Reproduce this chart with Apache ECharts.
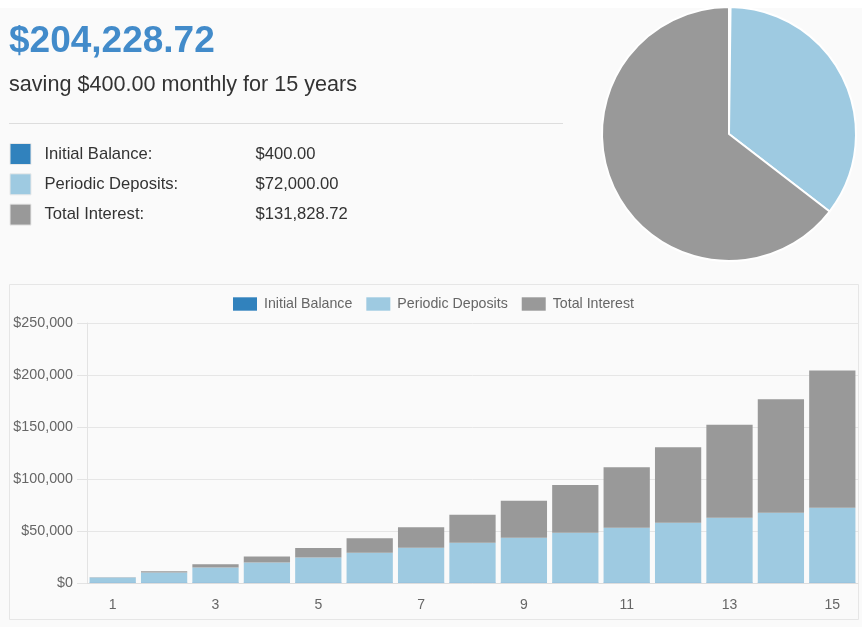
<!DOCTYPE html>
<html>
<head>
<meta charset="utf-8">
<script src="https://cdn.jsdelivr.net/npm/echarts@6/dist/echarts.min.js"></script>
<style>
  html, body { margin: 0; padding: 0; background: #ffffff; }
  #chart { width: 862px; height: 627px; }
</style>
</head>
<body>
<div id="chart"></div>
<script>
// ---- data ----
const headline = '$204,228.72';
const subtitle = 'saving $400.00 monthly for 15 years';
const seriesNames = ['Initial Balance', 'Periodic Deposits', 'Total Interest'];
const summaryValues = [400, 72000, 131828.72];
const summaryLabels = ['$400.00', '$72,000.00', '$131,828.72'];
const categories = ['1','2','3','4','5','6','7','8','9','10','11','12','13','14','15'];
const initialBalance = [400,400,400,400,400,400,400,400,400,400,400,400,400,400,400];
const periodicDeposits = [4800,9600,14400,19200,24000,28800,33600,38400,43200,48000,52800,57600,62400,67200,72000];
const totalInterest = [374.46,1405.17,3175.37,5778.82,9321.23,13921.65,19714.25,26850.33,35500.14,45855.79,58133.51,72577.11,89461.33,109095.57,131828.72];
const yMin = 0, yMax = 250000, yStep = 50000;

const colors = ['#3182bd', '#9ecae1', '#999999'];
const FONT = '"Liberation Sans", Arial, Helvetica, sans-serif';

const chart = echarts.init(document.getElementById('chart'), null, { renderer: 'canvas' });

function money(v) {
  return '$' + Math.round(v).toString().replace(/\B(?=(\d{3})+(?!\d))/g, ',');
}

const barData = [initialBalance, periodicDeposits, totalInterest];

const option = {
  animation: false,
  textStyle: { fontFamily: FONT },
  color: colors,
  graphic: [
    { type: 'rect', z: -10, silent: true, shape: { x: 0, y: 8, width: 862, height: 619 }, style: { fill: '#fafafa' } },
    { type: 'rect', z: -9, silent: true, shape: { x: 9.5, y: 284.5, width: 849, height: 335 }, style: { fill: 'none', stroke: '#e6e6e6', lineWidth: 1 } },
    { type: 'line', z: -9, silent: true, shape: { x1: 9, y1: 123.5, x2: 563, y2: 123.5 }, style: { stroke: '#dddddd', lineWidth: 1 } },
    { type: 'text', left: 9, top: 23, silent: true,
      style: { text: headline, fontFamily: FONT, fontSize: 37, fontWeight: 'bold', fill: '#428bca' } },
    { type: 'text', left: 9, top: 74, silent: true,
      style: { text: subtitle, fontFamily: FONT, fontSize: 21.6, fill: '#333333' } }
  ],
  legend: [
    {
      data: seriesNames,
      orient: 'vertical',
      left: 9.5, top: 143, padding: 0,
      itemWidth: 21, itemHeight: 21, itemGap: 8.3,
      icon: 'rect', selectedMode: false,
      itemStyle: { borderColor: '#e8e8e8', borderWidth: 1 },
      formatter: function (name) {
        const i = seriesNames.indexOf(name);
        return '{s| }{a|' + name + ':}{b|' + summaryLabels[i] + '}';
      },
      textStyle: {
        fontFamily: FONT, fontSize: 16.6, color: '#333',
        rich: {
          s: { width: 8.5, fontSize: 16.6 },
          a: { width: 211, fontSize: 16.6, color: '#333', fontFamily: FONT },
          b: { fontSize: 16.6, color: '#333', fontFamily: FONT }
        }
      }
    },
    {
      data: seriesNames,
      top: 297, left: 233, padding: 0,
      itemWidth: 24, itemHeight: 13.4, itemGap: 14,
      icon: 'rect', selectedMode: false,
      formatter: function (name) { return '{t|' + name + '}'; },
      textStyle: {
        fontFamily: FONT, fontSize: 14, color: '#666',
        rich: { t: { fontFamily: FONT, fontSize: 14.2, color: '#666', padding: [0, 0, 0, 2] } }
      }
    }
  ],
  grid: { left: 87, right: 4, top: 323, bottom: 44, containLabel: false },
  xAxis: {
    type: 'category',
    data: categories,
    axisLine: { show: true, lineStyle: { color: '#dddddd' } },
    axisTick: { show: false },
    axisLabel: { interval: 1, color: '#666', fontSize: 14, margin: 15, fontFamily: FONT },
    splitLine: { show: false }
  },
  yAxis: {
    type: 'value',
    min: yMin, max: yMax, interval: yStep,
    axisLine: { show: true, lineStyle: { color: '#e3e3e3' } },
    axisTick: { show: true, length: 10, lineStyle: { color: '#e3e3e3' } },
    axisLabel: { color: '#666', fontSize: 14.3, margin: 14, fontFamily: FONT, formatter: money },
    splitLine: { show: true, lineStyle: { color: '#e6e6e6' } }
  },
  series: seriesNames.map(function (n, i) {
    return {
      name: n, type: 'bar', stack: 'total',
      barCategoryGap: '10%',
      data: barData[i],
      itemStyle: { color: colors[i] },
      emphasis: { disabled: true }
    };
  }).concat([{
    type: 'pie',
    center: [729, 134],
    radius: 127,
    startAngle: 90,
    clockwise: true,
    label: { show: false },
    labelLine: { show: false },
    emphasis: { disabled: true },
    itemStyle: { borderColor: '#ffffff', borderWidth: 2 },
    data: seriesNames.map(function (n, i) {
      return { name: n, value: summaryValues[i], itemStyle: { color: colors[i] } };
    })
  }])
};

chart.setOption(option);
</script>
</body>
</html>
